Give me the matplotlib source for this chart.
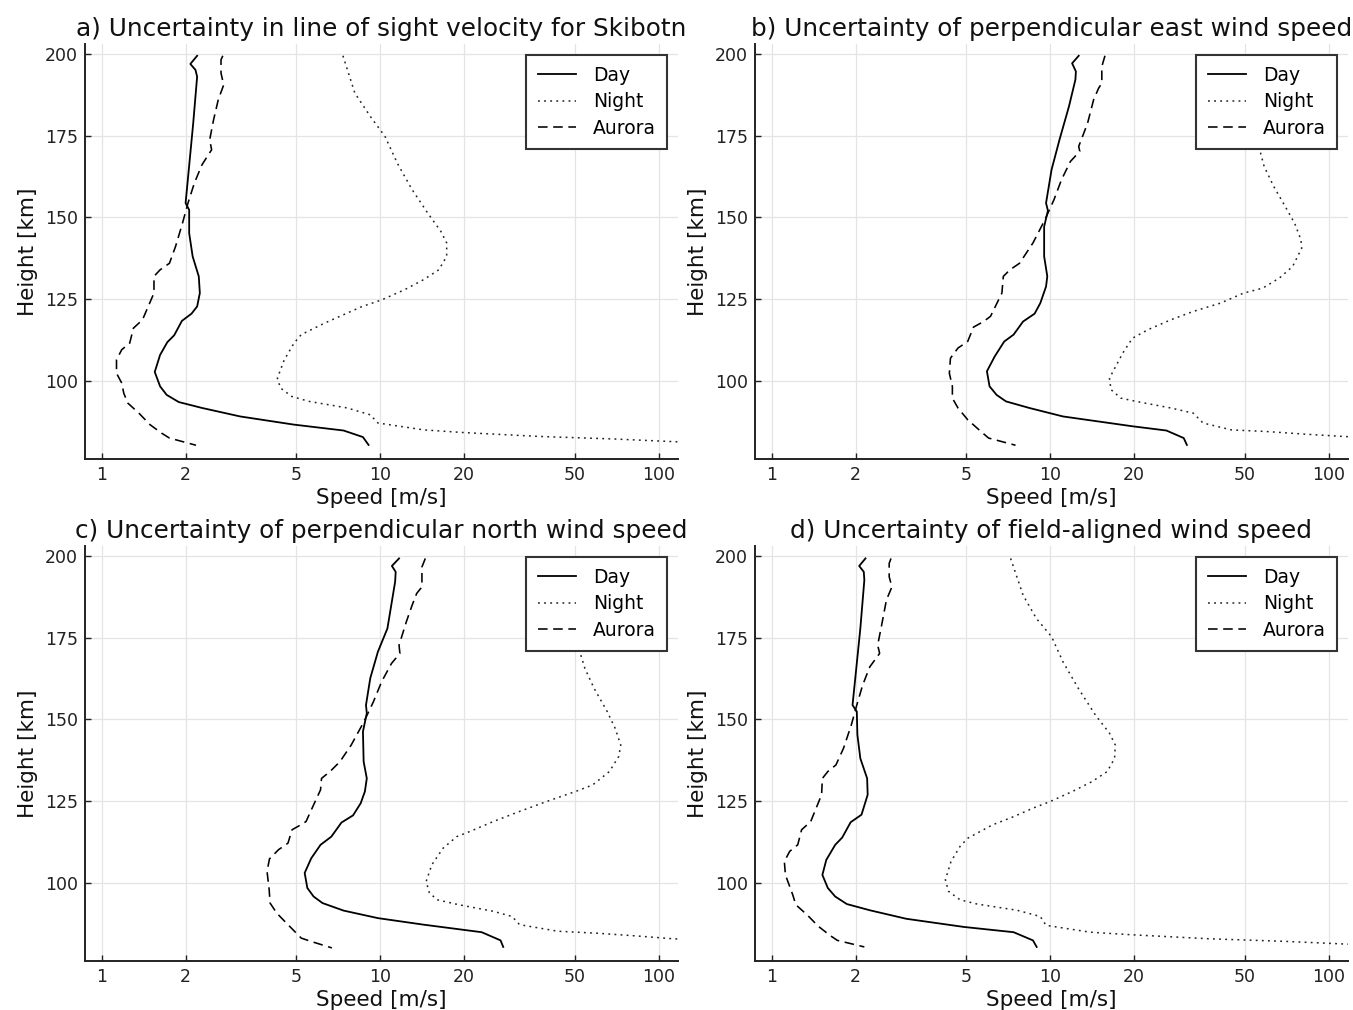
import matplotlib
matplotlib.use("Agg")
import matplotlib.pyplot as plt

# ---- data (height in km, speed in m/s) ----
titles = [
    "a) Uncertainty in line of sight velocity for Skibotn",
    "b) Uncertainty of perpendicular east wind speed",
    "c) Uncertainty of perpendicular north wind speed",
    "d) Uncertainty of field-aligned wind speed",
]
series_labels = ["Day", "Night", "Aurora"]
xticks = [1, 2, 5, 10, 20, 50, 100]
yticks = [100, 125, 150, 175, 200]

# panel a
a_day_h = [199.4, 196.9, 195.1, 193.0, 178.8, 154.4, 152.3, 145.2, 138.1, 132.0, 126.9, 122.8, 120.6,
           118.4, 114.0, 111.9, 108.0, 102.8, 98.4, 95.8, 93.6, 91.8, 89.2, 86.7, 84.9, 82.9, 80.5]
a_day_v = [2.20, 2.08, 2.17, 2.20, 2.13, 2.00, 2.06, 2.06, 2.12, 2.23, 2.25, 2.20, 2.10,
           1.94, 1.82, 1.72, 1.62, 1.55, 1.62, 1.71, 1.89, 2.29, 3.14, 4.90, 7.38, 8.66, 9.07]
a_night_h = [199.4, 188.0, 180.9, 174.7, 166.6, 158.5, 151.3, 145.7, 142.2, 138.1, 134.0, 131.0, 127.9,
             124.8, 122.8, 120.3, 117.7, 114.2, 111.6, 106.5, 100.9, 97.9, 95.3, 93.8, 91.8, 89.7,
             87.2, 85.1, 84.3, 83.1, 82.3, 81.4]
a_night_v = [7.34, 8.1, 9.2, 10.4, 11.5, 13.0, 14.8, 16.5, 17.3, 17.3, 16.2, 14.3, 12.2,
             10.1, 8.6, 7.38, 6.3, 5.2, 4.9, 4.52, 4.27, 4.38, 4.81, 5.55, 7.6, 9.2,
             9.8, 14.3, 19.7, 37.0, 69.6, 120.0]
a_aur_h = [199.4, 198.2, 194.1, 190.5, 186.0, 179.8, 173.7, 170.7, 166.1, 160.5, 154.4, 148.3, 141.1,
           136.0, 134.0, 132.0, 126.9, 118.7, 116.2, 111.6, 109.6, 106.5, 102.4, 99.4, 96.3, 93.3,
           90.2, 86.7, 84.1, 82.6, 80.4]
a_aur_v = [2.72, 2.68, 2.68, 2.74, 2.62, 2.52, 2.44, 2.48, 2.29, 2.15, 2.04, 1.95, 1.84,
           1.75, 1.62, 1.54, 1.54, 1.40, 1.30, 1.26, 1.18, 1.13, 1.13, 1.18, 1.20, 1.24,
           1.36, 1.49, 1.64, 1.75, 2.18]

# panel b
b_day_h = [199.4, 197.1, 194.6, 192.1, 183.9, 173.7, 164.6, 154.4, 152.1, 147.2, 138.1, 132.0, 128.9,
           123.8, 120.6, 118.2, 114.2, 112.1, 107.5, 103.0, 98.4, 95.8, 93.8, 91.8, 89.2, 86.2,
           84.9, 82.6, 80.5]
b_day_v = [12.64, 11.97, 12.35, 12.3, 11.66, 10.78, 10.1, 9.65, 9.8, 9.5, 9.5, 9.75, 9.65,
           9.2, 8.78, 7.98, 7.38, 6.83, 6.31, 5.92, 6.05, 6.41, 6.93, 8.4, 11.1, 19.7,
           26.1, 30.1, 30.9]
b_night_h = [199.4, 188.0, 180.9, 174.7, 169.7, 165.6, 159.5, 153.4, 148.3, 143.2, 140.6, 135.0, 131.5,
             128.4, 126.9, 123.8, 121.3, 118.7, 115.7, 113.1, 108.6, 100.9, 97.4, 94.8, 93.8, 91.8,
             90.2, 87.2, 85.1, 84.6, 83.8, 83.1, 82.9]
b_night_v = [37.5, 41.5, 47.0, 53.0, 56.8, 58.5, 63.3, 69.6, 75.2, 79.3, 79.8, 74.0, 66.4,
             57.8, 49.4, 40.7, 32.6, 27.0, 22.4, 19.7, 18.2, 16.3, 16.5, 17.9, 20.3, 27.0,
             32.6, 35.3, 44.6, 59.6, 81.7, 112.0, 125.0]
b_aur_h = [199.4, 196.1, 191.0, 189.5, 186.0, 178.8, 171.7, 170.2, 167.1, 161.5, 155.4, 149.3, 142.2,
           136.0, 134.0, 132.0, 126.9, 119.8, 118.2, 116.5, 112.1, 110.1, 107.0, 102.4, 98.4, 94.8,
           91.8, 88.2, 85.1, 82.6, 80.4]
b_aur_v = [15.7, 15.3, 15.3, 14.9, 14.3, 13.6, 12.64, 12.75, 11.8, 10.96, 10.3, 9.56, 8.66,
           7.75, 7.16, 6.78, 6.7, 6.1, 5.76, 5.3, 5.05, 4.66, 4.38, 4.34, 4.45, 4.45,
           4.66, 5.05, 5.55, 6.0, 7.5]

# panel c
c_day_h = [199.2, 196.9, 195.1, 192.1, 177.8, 170.7, 162.6, 154.4, 151.9, 146.3, 137.1, 132.0, 128.0,
           124.4, 120.7, 118.5, 114.2, 111.7, 107.6, 103.1, 98.5, 95.9, 93.9, 91.6, 89.3, 87.3,
           85.0, 82.5, 80.5]
c_day_v = [11.67, 11.0, 11.35, 11.3, 10.6, 9.8, 9.2, 8.88, 8.94, 8.66, 8.71, 8.94, 8.8,
           8.5, 7.98, 7.25, 6.67, 6.1, 5.65, 5.35, 5.47, 5.76, 6.2, 7.38, 9.8, 14.3,
           23.1, 27.0, 27.6]
c_night_h = [199.2, 188.0, 180.9, 174.7, 169.7, 165.6, 159.5, 152.4, 147.3, 142.2, 138.7, 134.1, 130.0,
             128.0, 124.9, 121.9, 118.8, 115.8, 114.2, 110.7, 105.6, 100.5, 97.0, 94.9, 93.4, 91.4,
             89.8, 87.3, 85.3, 84.7, 83.9, 83.0, 82.8]
c_night_v = [34.6, 38.2, 43.4, 49.1, 52.4, 54.2, 58.5, 65.2, 69.6, 72.9, 71.7, 66.4, 57.8,
             50.2, 39.4, 31.6, 25.4, 21.0, 18.8, 16.8, 15.3, 14.6, 15.0, 16.0, 19.1, 25.4,
             29.7, 31.6, 43.3, 59.6, 81.7, 112.0, 125.0]
c_aur_h = [199.2, 196.6, 190.5, 188.5, 184.9, 179.9, 172.7, 170.2, 167.1, 161.5, 155.4, 149.3, 142.2,
           137.1, 134.1, 132.0, 128.5, 123.9, 118.8, 117.6, 116.3, 112.2, 110.2, 107.4, 103.6, 98.0,
           93.9, 90.8, 87.3, 83.2, 82.2, 80.2]
c_aur_v = [14.5, 14.1, 14.1, 13.5, 13.0, 12.4, 11.67, 11.75, 10.96, 10.1, 9.44, 8.73, 7.86,
           7.16, 6.6, 6.15, 6.1, 5.76, 5.41, 5.13, 4.82, 4.66, 4.31, 4.0, 3.92, 3.99,
           4.02, 4.25, 4.66, 5.2, 5.63, 6.7]

# panel d
d_day_h = [199.2, 196.9, 195.1, 192.6, 177.8, 154.4, 152.4, 145.3, 138.1, 132.0, 127.0, 120.9, 118.6,
           113.9, 111.7, 107.1, 102.5, 98.5, 95.9, 93.6, 91.7, 89.1, 86.6, 85.0, 82.5, 80.5]
d_day_v = [2.17, 2.06, 2.14, 2.15, 2.08, 1.95, 2.02, 2.03, 2.08, 2.20, 2.21, 2.10, 1.92,
           1.79, 1.69, 1.57, 1.52, 1.59, 1.69, 1.86, 2.25, 3.04, 4.90, 7.38, 8.66, 8.93]
d_night_h = [199.2, 188.0, 180.9, 175.3, 167.6, 159.5, 151.4, 145.8, 142.2, 138.1, 134.1, 131.0, 128.0,
             124.9, 122.9, 120.3, 117.8, 113.7, 111.2, 106.6, 101.0, 97.5, 94.9, 93.6, 91.7, 89.8,
             87.1, 85.0, 84.2, 83.0, 82.2, 81.3]
d_night_v = [7.2, 7.98, 8.9, 10.1, 11.1, 12.6, 14.5, 16.3, 17.1, 17.0, 16.0, 14.1, 12.0,
             9.97, 8.66, 7.38, 6.2, 5.05, 4.74, 4.4, 4.2, 4.31, 4.74, 5.46, 7.6, 9.2,
             9.65, 13.9, 19.7, 37.0, 69.6, 120.0]
d_aur_h = [199.2, 197.7, 193.6, 190.5, 186.5, 178.8, 172.7, 170.2, 166.1, 160.5, 154.4, 148.3, 141.2,
           136.1, 134.1, 132.0, 127.0, 118.8, 116.3, 111.7, 109.7, 106.6, 102.5, 99.0, 96.4, 93.4,
           90.3, 86.8, 84.0, 82.5, 80.5]
d_aur_v = [2.68, 2.64, 2.64, 2.70, 2.58, 2.48, 2.40, 2.44, 2.25, 2.12, 2.02, 1.93, 1.81,
           1.70, 1.59, 1.52, 1.51, 1.38, 1.28, 1.24, 1.16, 1.11, 1.12, 1.16, 1.19, 1.22,
           1.34, 1.47, 1.62, 1.72, 2.15]

panels = [
    [(a_day_v, a_day_h), (a_night_v, a_night_h), (a_aur_v, a_aur_h)],
    [(b_day_v, b_day_h), (b_night_v, b_night_h), (b_aur_v, b_aur_h)],
    [(c_day_v, c_day_h), (c_night_v, c_night_h), (c_aur_v, c_aur_h)],
    [(d_day_v, d_day_h), (d_night_v, d_night_h), (d_aur_v, d_aur_h)],
]

# ---- styling ----
W, H = 1353, 1010
styles = [
    dict(color="black", lw=1.3, ls="-"),
    dict(color="#222222", lw=1.1, ls=(0, (1.2, 2.8))),
    dict(color="black", lw=1.15, ls=(0, (6, 3.5))),
]
# axes boxes in pixels: left, top, right, bottom
boxes = [(85, 44, 678, 459), (755, 44, 1348, 459),
         (85, 546, 678, 961), (755, 546, 1348, 961)]

fig = plt.figure(figsize=(W / 100, H / 100), dpi=100)

for i, (title, lines) in enumerate(zip(titles, panels)):
    l, t, r, b = boxes[i]
    ax = fig.add_axes([l / W, 1 - b / H, (r - l) / W, (b - t) / H])
    for (v, h), lab, st in zip(lines, series_labels, styles):
        ax.plot(v, h, label=lab, **st)

    ax.set_xscale("log")
    ax.set_xlim(0.871, 117)
    ax.set_ylim(76.2, 203.0)
    ax.set_xticks(xticks)
    ax.set_xticklabels([str(x) for x in xticks])
    ax.xaxis.set_minor_locator(matplotlib.ticker.NullLocator())
    ax.set_yticks(yticks)
    ax.grid(True, color="#e4e4e4", lw=0.9)
    ax.set_axisbelow(True)

    for s in ["top", "right"]:
        ax.spines[s].set_visible(False)
    for s in ["left", "bottom"]:
        ax.spines[s].set_linewidth(1.4)
        ax.spines[s].set_color("#222222")
    ax.tick_params(direction="in", length=4, width=1, color="#222222",
                   labelsize=12.5, labelcolor="#222222", pad=5)

    ax.set_title(title, fontsize=17.8, pad=6, color="#111111")
    ax.set_xlabel("Speed [m/s]", fontsize=15.5, labelpad=3, color="#111111")
    ax.set_ylabel("Height [km]", fontsize=15.5, labelpad=5, color="#111111")

    leg = ax.legend(loc="upper right", bbox_to_anchor=(1 - 10.7 / 593, 1 - 10.7 / 415),
                    borderaxespad=0, fontsize=13.5, frameon=True, fancybox=False,
                    framealpha=1, edgecolor="#333333", borderpad=0.6, labelspacing=0.4,
                    handlelength=2.05, handletextpad=0.9)
    leg.get_frame().set_linewidth(1.5)

fig.savefig("out.png", dpi=100)
